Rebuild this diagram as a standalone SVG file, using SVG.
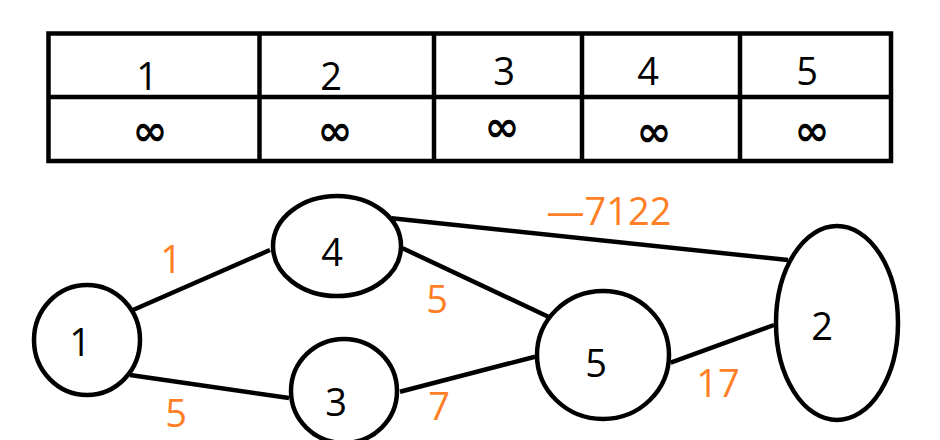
<svg xmlns="http://www.w3.org/2000/svg" width="940" height="440" viewBox="0 0 940 440">
<style>
.ln{stroke:#000;stroke-width:4.5;fill:none}
.nd{stroke:#000;stroke-width:4.5;fill:#fff}
.t{font-family:"Open Sans","Noto Sans",sans-serif;font-size:38px;fill:#000;text-anchor:middle}
.inf{font-family:"DejaVu Sans",sans-serif;font-size:42px;font-weight:bold;fill:#000;text-anchor:middle}
.w{font-family:"Open Sans","Noto Sans","Noto Sans CJK SC",sans-serif;font-size:38px;fill:#FF7F27;text-anchor:middle}
</style>
<rect width="940" height="440" fill="#fff"/>
<g id="table">
<rect class="ln" x="48.5" y="33.5" width="842.5" height="127.5"/>
<line class="ln" x1="48.5" y1="97" x2="891" y2="97"/>
<line class="ln" x1="259.5" y1="33.5" x2="259.5" y2="161"/>
<line class="ln" x1="434" y1="33.5" x2="434" y2="161"/>
<line class="ln" x1="582" y1="33.5" x2="582" y2="161"/>
<line class="ln" x1="740" y1="33.5" x2="740" y2="161"/>
<text class="t" x="147" y="90">1</text>
<text class="t" x="331" y="90">2</text>
<text class="t" x="504" y="85">3</text>
<text class="t" x="648" y="85">4</text>
<text class="t" x="807" y="85">5</text>
<text class="inf" x="150" y="145">∞</text>
<text class="inf" x="335" y="145">∞</text>
<text class="inf" x="502" y="141">∞</text>
<text class="inf" x="654" y="146">∞</text>
<text class="inf" x="812" y="145">∞</text>
</g>
<g id="connectors">
<line class="ln" x1="133" y1="310" x2="270" y2="250"/>
<line class="ln" x1="130" y1="375" x2="289" y2="398"/>
<line class="ln" x1="391.7" y1="218.3" x2="788" y2="260"/>
<line class="ln" x1="402.7" y1="248.3" x2="548.3" y2="316.7"/>
<line class="ln" x1="400" y1="391.7" x2="535" y2="356.7"/>
<line class="ln" x1="670.7" y1="362.7" x2="774" y2="325"/>
<text class="w" x="171" y="273">1</text>
<text class="w" x="176" y="427">5</text>
<text class="w" x="437" y="313">5</text>
<text class="w" x="439" y="420">7</text>
<text class="w" x="718" y="397">17</text>
<text class="w" x="609" y="225">—7122</text>
</g>
<g id="node1"><ellipse class="nd" cx="87" cy="340" rx="53" ry="55"/><text class="t" x="80" y="356">1</text></g>
<g id="node4"><ellipse class="nd" cx="337" cy="246" rx="64" ry="50"/><text class="t" x="332" y="266">4</text></g>
<g id="node3"><ellipse class="nd" cx="344" cy="391" rx="53" ry="52"/><text class="t" x="336" y="416">3</text></g>
<g id="node5"><ellipse class="nd" cx="603" cy="355" rx="66" ry="64"/><text class="t" x="596" y="377">5</text></g>
<g id="node2"><ellipse class="nd" cx="837" cy="323" rx="61" ry="97"/><text class="t" x="822" y="340">2</text></g>
</svg>
